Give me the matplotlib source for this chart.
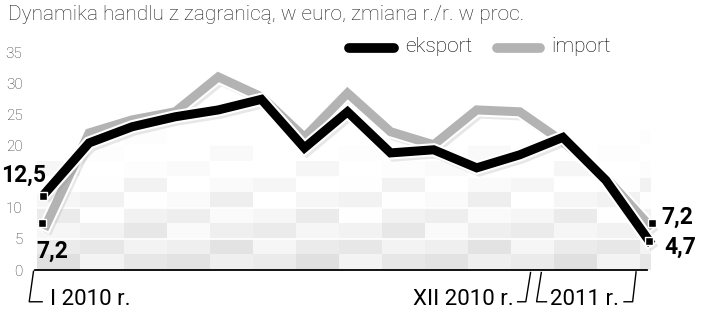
import numpy as np
import matplotlib
matplotlib.use("Agg")
import matplotlib.pyplot as plt
import matplotlib.patheffects as pe
from matplotlib import font_manager
from matplotlib.lines import Line2D

# I 2010 ... III 2011, dynamika r./r. w proc.
months = list(range(15))
eksport = [12.5, 20.4, 23.0, 24.6, 25.7, 27.4, 19.6, 25.4, 18.8, 19.3, 16.4, 18.5, 21.3, 14.4, 4.7]
imp = [7.2, 22.0, 24.1, 25.4, 31.0, 27.8, 21.3, 28.4, 22.2, 20.1, 25.7, 25.4, 20.6, 14.8, 7.2]
y_ticks = [0, 5, 10, 15, 20, 25, 30, 35]
period_labels = ["I 2010 r.", "XII 2010 r.", "2011 r."]

names = {f.name for f in font_manager.fontManager.ttflist}
LIGHT = "Roboto" if "Roboto" in names else "DejaVu Sans"

W, H = 720, 320
fig = plt.figure(figsize=(7.2, 3.2), dpi=100)
ax = fig.add_axes([35 / W, 50 / H, 625 / W, 218 / H])
px = 43.07  # pixels per month
ax.set_xlim(-(46 - 35) / px, 14 + (660 - 649) / px)
ax.set_ylim(0, 35)
for s in ax.spines.values():
    s.set_visible(False)

# background checker, fading upward
col_edges = np.arange(-0.2, 15.0, 1.0)
col_edges[-1] = 14.05
row_edges = np.arange(0, 30.0, 2.5)
nc, nr = len(col_edges) - 1, len(row_edges) - 1
shade = np.zeros((nr, nc))
for r in range(nr):
    for c in range(nc):
        shade[r, c] = 0.875 + 0.13 * r / 9 + 0.03 * ((2 * c + r) % 3) + 0.015 * ((c + 2 * r) % 2)
shade = np.clip(shade, 0, 1)
ax.pcolormesh(col_edges, row_edges, shade, cmap="gray", vmin=0, vmax=1, zorder=0)
for yv in y_ticks[1:]:
    ax.axhline(yv, color="white", lw=1.2, zorder=1)

ax.set_yticks(y_ticks)
# "15" is hidden under the 12,5 label in the original
ax.set_yticklabels(["" if v == 15 else str(v) for v in y_ticks], fontsize=11, color="#333333",
                   fontfamily=LIGHT, fontweight="light")
ax.tick_params(axis="y", length=0, pad=9)
ax.set_xticks([])

# axis line
ax.plot([-0.26, 13.95], [0, 0], color="black", lw=1.3, clip_on=False, zorder=2)

fx = [pe.SimpleLineShadow(offset=(2, -3), shadow_color="#888888", alpha=0.2),
      pe.Stroke(linewidth=9.5, foreground="white"), pe.Normal()]
ax.plot(months, imp, color="#b3b3b3", lw=6.5, solid_joinstyle="miter",
        path_effects=fx, clip_on=False, zorder=3)
ax.plot(months, eksport, color="black", lw=6.5, solid_joinstyle="miter",
        path_effects=fx, clip_on=False, zorder=4)

# end markers
mk = dict(marker="s", ms=5.5, color="black", mec="white", mew=1, ls="none", clip_on=False, zorder=5)
ax.plot([months[0] - 0.08, months[-1]], [eksport[0] - 0.6, eksport[-1]], **mk)
ax.plot([months[0] - 0.1, months[-1] + 0.08], [imp[0] + 0.3, imp[-1] + 0.4], **mk)

lbl = dict(fontfamily=LIGHT, fontweight="bold", fontsize=16.5, color="black", zorder=6)
ax.annotate("12,5", (months[0], eksport[0]), xytext=(0, 12), textcoords="offset points",
            ha="right", va="center", **lbl)
ax.annotate("7,2", (months[0], imp[0]), xytext=(-7, -19), textcoords="offset points",
            ha="left", va="center", **lbl)
ax.annotate("7,2", (months[-1], imp[-1]), xytext=(9, 6), textcoords="offset points",
            ha="left", va="center", **lbl)
ax.annotate("4,7", (months[-1], eksport[-1]), xytext=(11, -5), textcoords="offset points",
            ha="left", va="center", **lbl)

# period brackets below the axis
yb = -5.1
br = dict(color="black", lw=1, clip_on=False)
ax.plot([-0.29, -0.39, -0.09], [-0.2, yb, yb], **br)
ax.plot([10.95, 11.14, 11.25], [yb, yb, -0.4], **br)
ax.plot([11.50, 11.39, 11.62], [-0.4, yb, yb], **br)
ax.plot([13.42, 13.62, 13.70], [yb, yb, -0.3], **br)
per = dict(fontfamily=LIGHT, fontsize=16, color="black", va="center")
ax.text(0.1, yb + 0.3, period_labels[0], ha="left", **per)
ax.text(10.85, yb + 0.3, period_labels[1], ha="right", **per)
ax.text(11.70, yb + 0.3, period_labels[2], ha="left", **per)

# title and legend
fig.text(8 / W, 1 - 14 / H, "Dynamika handlu z zagranicą, w euro, zmiana r./r. w proc.",
         fontfamily=LIGHT, fontweight="light", fontsize=15, color="#222222", va="center")
fig.add_artist(Line2D([349 / W, 394 / W], [1 - 48 / H] * 2, color="black", lw=7,
                      solid_capstyle="round"))
fig.add_artist(Line2D([497 / W, 540 / W], [1 - 48 / H] * 2, color="#b3b3b3", lw=7,
                      solid_capstyle="round"))
fig.text(405 / W, 1 - 47 / H, "eksport", fontfamily=LIGHT, fontweight="light", fontsize=15,
         color="black", va="center")
fig.text(551 / W, 1 - 47 / H, "import", fontfamily=LIGHT, fontweight="light", fontsize=15,
         color="black", va="center")

fig.savefig("out.png", dpi=100)
